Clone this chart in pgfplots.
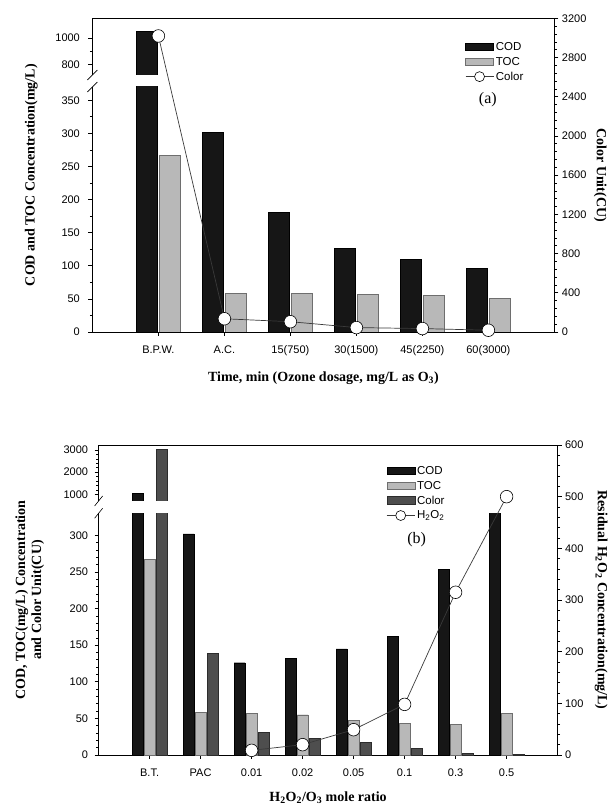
\documentclass[border=0pt]{standalone}
\usepackage{fontspec}
\setmainfont{Liberation Serif}
\setsansfont{Liberation Sans}
\usepackage{pgfplots}
\usepackage{pgfplotstable}
\pgfplotsset{compat=1.18}

\definecolor{codc}{HTML}{161616}
\definecolor{tocc}{HTML}{B8B8B8}
\definecolor{tocd}{HTML}{6E6E6E}
\definecolor{colc}{HTML}{4E4E4E}
\definecolor{cold}{HTML}{2C2C2C}
\definecolor{linec}{HTML}{3A3A3A}

\pgfplotstableread{
x COD TOC Color
0 1050 267 3020
1 301 58 135
2 181 58 105
3 126 57 45
4 110 55 35
5 96 51 18
}\dataA

\pgfplotstableread{
x COD TOC Color
0 1050 267 3020
1 302 58 139
2 126 57 31
3 132 55 23
4 145 47 17
5 162 43 9
6 253 42 2
7 331 57 1
}\dataB

\pgfplotstableread{
x H
2 9
3 20
4 49
5 98
6 315
7 500
}\dataH

\tikzset{axlab/.style={font=\bfseries\fontsize{14}{16}\selectfont}}
\pgfplotsset{
  base/.style={scale only axis, anchor=south west, tick align=outside,
    axis line style={-, line width=0.6pt},
    tick style={black, line width=0.6pt},
    major tick length=4pt, minor tick length=2.5pt,
    tick label style={font=\sffamily\fontsize{11}{13}\selectfont},
    xticklabel style={yshift=-6pt},
    /pgf/number format/1000 sep={},
    /pgf/number format/assume math mode=true,
    clip mode=individual},
  barleg/.style={legend image code/.code={\draw[##1] (0pt,-3.5pt) rectangle (28pt,4pt);}},
  lineleg/.style={legend image code/.code={\draw[mark repeat=2,mark phase=2,##1] plot coordinates {(0pt,0pt) (14pt,0pt) (28pt,0pt)};}},
}

\begin{document}
\begin{tikzpicture}
\useasboundingbox (0pt,0pt) rectangle (608pt,807pt);

% ================= Panel (a) =================
% lower part
\begin{axis}[base, at={(92.4pt,475pt)}, width=462pt, height=245pt,
  xmin=-1, xmax=6, ymin=0, ymax=370,
  axis x line*=bottom, axis y line*=left,
  yticklabel style={xshift=-5pt},
  xtick={0,...,5}, xticklabels={B.P.W.,A.C.,15(750),30(1500),45(2250),60(3000)},
  ytick={0,50,...,350}, minor y tick num=1]
\addplot[ybar, bar width=21pt, bar shift=-11.5pt, fill=codc, draw=black, line width=0.4pt] table[x=x,y=COD]{\dataA};
\addplot[ybar, bar width=21pt, bar shift=11.5pt, fill=tocc, draw=tocd, line width=0.4pt] table[x=x,y=TOC]{\dataA};
\draw[line width=0.6pt] (rel axis cs:0,1) ++(-5pt,-5pt) -- ++(10pt,10pt);
\end{axis}
% upper part
\begin{axis}[base, at={(92.4pt,732pt)}, width=462pt, height=56.7pt,
  xmin=-1, xmax=6, ymin=720, ymax=1148,
  axis x line*=top, axis y line*=left, xtick=\empty,
  yticklabel style={xshift=-5pt},
  ytick={800,1000}, minor y tick num=1]
\addplot[ybar, bar width=21pt, bar shift=-11.5pt, fill=codc, draw=black, line width=0.4pt] table[x=x,y=COD, skip coords between index={1}{20}]{\dataA};
\draw[line width=0.6pt] (rel axis cs:0,0) ++(-5pt,-5pt) -- ++(10pt,10pt);
\end{axis}
% right axis (Color)
\begin{axis}[base, at={(92.4pt,475pt)}, width=462pt, height=313.7pt,
  xmin=-1, xmax=6, ymin=0, ymax=3200,
  axis x line=none, axis y line*=right, xtick=\empty,
  ytick={0,400,...,3200}, minor y tick num=4,
  legend style={draw=none, fill=none, at={(rel axis cs:0.80,0.937)}, anchor=north west,
    font=\sffamily\fontsize{11.5}{13}\selectfont, row sep=1.2pt},
  legend cell align=left]
\addlegendimage{barleg, fill=codc, draw=black}
\addlegendentry{COD}
\addlegendimage{barleg, fill=tocc, draw=tocd}
\addlegendentry{TOC}
\addlegendimage{lineleg, linec, line width=0.7pt, mark=*, mark size=5pt, mark options={fill=white, draw=black, line width=0.6pt}}
\addlegendentry{Color}
\addplot[linec, line width=0.7pt, mark=*, mark size=6.3pt, mark options={fill=white, draw=black, line width=0.6pt}, forget plot] table[x=x,y=Color]{\dataA};
\node[font=\fontsize{16}{18}\selectfont] at (rel axis cs:0.856,0.742) {(a)};
\node[axlab, rotate=90] at (rel axis cs:-0.132,0.5) {COD and TOC Concentration(mg/L)};
\node[axlab, rotate=-90] at (rel axis cs:1.099,0.5) {Color Unit(CU)};
\node[axlab] at (rel axis cs:0.5,-0.147) {Time, min (Ozone dosage, mg/L as O\textsubscript{3})};
\end{axis}

% ================= Panel (b) =================
\begin{axis}[base, at={(98.6pt,52pt)}, width=459pt, height=241.7pt,
  xmin=-1, xmax=8, ymin=0, ymax=330,
  axis x line*=bottom, axis y line*=left,
  yticklabel style={xshift=-3pt},
  xtick={0,...,7}, xticklabels={B.T.,PAC,0.01,0.02,0.05,0.1,0.3,0.5},
  ytick={0,50,...,300}, minor y tick num=4]
\addplot[ybar, bar width=11pt, bar shift=-11.9pt, fill=codc, draw=black, line width=0.4pt] table[x=x,y=COD]{\dataB};
\addplot[ybar, bar width=11pt, bar shift=0pt, fill=tocc, draw=tocd, line width=0.4pt] table[x=x,y=TOC]{\dataB};
\addplot[ybar, bar width=11pt, bar shift=11.9pt, fill=colc, draw=cold, line width=0.4pt] table[x=x,y=Color]{\dataB};
\draw[line width=0.6pt] (rel axis cs:0,1) ++(-4pt,-5pt) -- ++(8pt,10pt);
\end{axis}
\begin{axis}[base, at={(98.6pt,306pt)}, width=459pt, height=56pt,
  xmin=-1, xmax=8, ymin=700, ymax=3225,
  axis x line*=top, axis y line*=left, xtick=\empty,
  yticklabel style={xshift=-3pt},
  ytick={1000,2000,3000}, minor y tick num=4]
\addplot[ybar, bar width=11pt, bar shift=-11.9pt, fill=codc, draw=black, line width=0.4pt] table[x=x,y=COD, skip coords between index={1}{20}]{\dataB};
\addplot[ybar, bar width=11pt, bar shift=11.9pt, fill=colc, draw=cold, line width=0.4pt] table[x=x,y=Color, skip coords between index={1}{20}]{\dataB};
\draw[line width=0.6pt] (rel axis cs:0,0) ++(-4pt,-5pt) -- ++(8pt,10pt);
\end{axis}
\begin{axis}[base, at={(98.6pt,52pt)}, width=459pt, height=310pt,
  xmin=-1, xmax=8, ymin=0, ymax=600,
  axis x line=none, axis y line*=right, xtick=\empty,
  ytick={0,100,...,600}, minor y tick num=4,
  legend style={draw=none, fill=none, at={(rel axis cs:0.62,0.945)}, anchor=north west,
    font=\sffamily\fontsize{11.5}{13}\selectfont, row sep=1.2pt},
  legend cell align=left]
\addlegendimage{barleg, fill=codc, draw=black}
\addlegendentry{COD}
\addlegendimage{barleg, fill=tocc, draw=tocd}
\addlegendentry{TOC}
\addlegendimage{barleg, fill=colc, draw=cold}
\addlegendentry{Color}
\addlegendimage{lineleg, linec, line width=0.7pt, mark=*, mark size=5pt, mark options={fill=white, draw=black, line width=0.6pt}}
\addlegendentry{H\textsubscript{2}O\textsubscript{2}}
\addplot[linec, line width=0.7pt, mark=*, mark size=6.3pt, mark options={fill=white, draw=black, line width=0.6pt}, forget plot] table[x=x,y=H]{\dataH};
\node[font=\fontsize{16}{18}\selectfont] at (rel axis cs:0.693,0.694) {(b)};
\node[axlab, rotate=90, align=center] at (rel axis cs:-0.150,0.5) {COD, TOC(mg/L) Concentration\\and Color Unit(CU)};
\node[axlab, rotate=-90] at (rel axis cs:1.095,0.5) {Residual H\textsubscript{2}O\textsubscript{2} Concentration(mg/L)};
\node[axlab] at (rel axis cs:0.5,-0.139) {H\textsubscript{2}O\textsubscript{2}/O\textsubscript{3} mole ratio};
\end{axis}
\end{tikzpicture}
\end{document}
